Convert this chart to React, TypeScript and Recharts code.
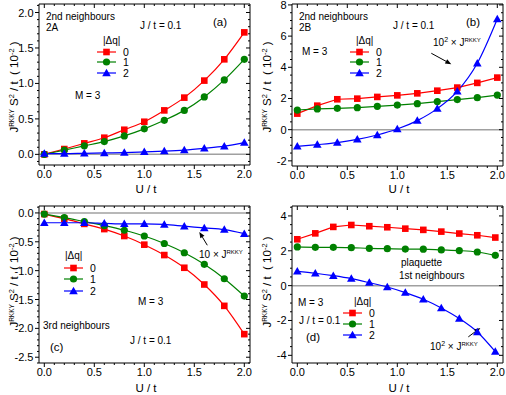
import React from 'react';
import { LineChart, Line, XAxis, YAxis, ReferenceLine } from 'recharts';

// U/t grid of panels (a)-(c) and of the plaquette panel (d)
const uSteps = [0, 0.2, 0.4, 0.6, 0.8, 1.0, 1.2, 1.4, 1.6, 1.8, 2.0];
const uPlaq = [0, 0.18, 0.36, 0.54, 0.72, 0.9, 1.08, 1.26, 1.44, 1.62, 1.8, 1.98];

// (a) 2nd neighbours 2A
const a0 = [0.0, 0.075, 0.155, 0.235, 0.347, 0.46, 0.62, 0.8, 1.04, 1.34, 1.72];
const a1 = [0.0, 0.06, 0.12, 0.18, 0.26, 0.36, 0.48, 0.62, 0.81, 1.05, 1.34];
const a2 = [0.01, 0.01, 0.015, 0.02, 0.025, 0.035, 0.045, 0.06, 0.085, 0.115, 0.165];

// (b) 2nd neighbours 2B
const b0 = [1.03, 1.54, 1.95, 1.99, 2.1, 2.2, 2.33, 2.5, 2.7, 3.0, 3.34];
const b1 = [1.26, 1.33, 1.37, 1.41, 1.5, 1.58, 1.67, 1.8, 1.93, 2.05, 2.22];
const b2 = [-1.07, -0.96, -0.83, -0.62, -0.34, 0.04, 0.58, 1.35, 2.46, 4.26, 7.1];

// (c) 3rd neighbours
const c0 = [-0.02, -0.1, -0.19, -0.28, -0.4, -0.55, -0.73, -0.95, -1.24, -1.61, -2.1];
const c1 = [-0.02, -0.08, -0.15, -0.22, -0.3, -0.4, -0.53, -0.69, -0.89, -1.14, -1.44];
const c2 = [-0.17, -0.17, -0.17, -0.18, -0.19, -0.19, -0.2, -0.23, -0.26, -0.29, -0.36];

// (d) plaquette 1st neighbours
const d0 = [2.66, 3.0, 3.37, 3.48, 3.41, 3.35, 3.27, 3.2, 3.1, 2.99, 2.89, 2.76];
const d1 = [2.22, 2.2, 2.2, 2.18, 2.14, 2.12, 2.1, 2.09, 2.05, 2.01, 1.93, 1.74];
const d2 = [0.82, 0.71, 0.57, 0.4, 0.17, -0.08, -0.4, -0.78, -1.28, -1.89, -2.66, -3.79];

// ticks (major + minor)
const xTicks = [0, 0.1, 0.2, 0.3, 0.4, 0.5, 0.6, 0.7, 0.8, 0.9, 1.0, 1.1, 1.2, 1.3, 1.4, 1.5, 1.6, 1.7, 1.8, 1.9, 2.0];
const aTicks = [-0.1, 0, 0.1, 0.2, 0.3, 0.4, 0.5, 0.6, 0.7, 0.8, 0.9, 1.0, 1.1, 1.2, 1.3, 1.4, 1.5, 1.6, 1.7, 1.8, 1.9, 2.0, 2.1];
const bTicks = [-2, -1.5, -1, -0.5, 0, 0.5, 1, 1.5, 2, 2.5, 3, 3.5, 4, 4.5, 5, 5.5, 6, 6.5, 7, 7.5, 8];
const cTicks = [0.1, 0, -0.1, -0.2, -0.3, -0.4, -0.5, -0.6, -0.7, -0.8, -0.9, -1.0, -1.1, -1.2, -1.3, -1.4, -1.5, -1.6, -1.7, -1.8, -1.9, -2.0, -2.1, -2.2, -2.3, -2.4, -2.5, -2.6];
const dTicks = [-4, -3.5, -3, -2.5, -2, -1.5, -1, -0.5, 0, 0.5, 1, 1.5, 2, 2.5, 3, 3.5, 4, 4.5];

const RED = '#ff0000';
const GREEN = '#008000';
const BLUE = '#0000ff';
const FONT = "'Liberation Sans', Arial, sans-serif";

const isMajor = (v: number, step: number) => Math.abs(v / step - Math.round(v / step)) < 1e-6;

const Marker = ({ shape, cx, cy, color }: any) => {
  if (cx == null || cy == null) return null;
  if (shape === 'square') return <rect x={cx - 3.3} y={cy - 3.3} width={6.6} height={6.6} fill={color} />;
  if (shape === 'circle') return <circle cx={cx} cy={cy} r={3.6} fill={color} />;
  return <polygon points={`${cx},${cy - 4.3} ${cx - 4.3},${cy + 3.2} ${cx + 4.3},${cy + 3.2}`} fill={color} />;
};

const series = [
  { key: 's0', color: RED, shape: 'square', label: '0' },
  { key: 's1', color: GREEN, shape: 'circle', label: '1' },
  { key: 's2', color: BLUE, shape: 'triangle', label: '2' },
];

const arrowShape = (p: any) => {
  const { x1, y1, x2, y2 } = p;
  const ang = Math.atan2(y2 - y1, x2 - x1);
  const L = 6, W = 2.4;
  const bx = x2 - L * Math.cos(ang), by = y2 - L * Math.sin(ang);
  const px = -Math.sin(ang) * W, py = Math.cos(ang) * W;
  return (
    <g>
      <line x1={x1} y1={y1} x2={bx} y2={by} stroke="#000" strokeWidth={1} />
      <polygon points={`${x2},${y2} ${bx + px},${by + py} ${bx - px},${by - py}`} fill="#000" />
    </g>
  );
};

// box = plot box edges inside the panel; axes take a few px of it
function Panel({ left, top, width, height, box, xs, ys, yDomain, yTicks, yStep, yFmt, curves, arrow }: any) {
  const data = xs.map((u: number, i: number) => ({ u, s0: ys[0][i], s1: ys[1][i], s2: ys[2][i] }));
  const xDomain = [-0.053, 2.057];
  const margin = { top: box.top - 1, left: box.left - 30, right: box.right - 1, bottom: box.bottom - 20 };
  const bottomTick = (p: any) => {
    const v = p.payload.value;
    const maj = isMajor(v, 0.5);
    return (
      <g key={`bx${v}`}>
        <line x1={p.x} x2={p.x} y1={p.y} y2={p.y + (maj ? 4 : 2)} stroke="#000" />
        {maj && <text x={p.x} y={p.y + 12.5} textAnchor="middle" fontSize={11} fontFamily={FONT} fill="#000">{v.toFixed(1)}</text>}
      </g>
    );
  };
  const topTick = (p: any) => {
    const v = p.payload.value;
    const maj = isMajor(v, 0.5);
    return <line key={`tx${v}`} x1={p.x} x2={p.x} y1={p.y} y2={p.y + (maj ? 4 : 2)} stroke="#000" />;
  };
  const leftTick = (p: any) => {
    const v = p.payload.value;
    const maj = isMajor(v, yStep);
    return (
      <g key={`ly${v}`}>
        <line x1={p.x} x2={p.x - (maj ? 4 : 2)} y1={p.y} y2={p.y} stroke="#000" />
        {maj && <text x={p.x - 5.5} y={p.y + 4} textAnchor="end" fontSize={11} fontFamily={FONT} fill="#000">{yFmt(v)}</text>}
      </g>
    );
  };
  const rightTick = (p: any) => {
    const v = p.payload.value;
    const maj = isMajor(v, yStep);
    return <line key={`ry${v}`} x1={p.x} x2={p.x - (maj ? 4 : 2)} y1={p.y} y2={p.y} stroke="#000" />;
  };
  const common = { type: 'number' as const, allowDataOverflow: true, interval: 0 as const, tickSize: 0, tickMargin: 0, tickLine: false, stroke: '#000' };
  return (
    <div style={{ position: 'absolute', left, top, width, height }}>
      <LineChart width={width} height={height} data={data} margin={margin}>
        <XAxis {...common} dataKey="u" domain={xDomain} ticks={xTicks} height={20} tick={bottomTick} />
        <XAxis {...common} xAxisId="top" orientation="top" dataKey="u" domain={xDomain} ticks={xTicks} height={1} tick={topTick} />
        <YAxis {...common} domain={yDomain} ticks={yTicks} width={30} tick={leftTick} />
        <YAxis {...common} yAxisId="right" orientation="right" domain={yDomain} ticks={yTicks} width={1} tick={rightTick} />
        <ReferenceLine y={0} stroke="#a0a0a0" strokeWidth={1.5} />
        {series.map((s, i) => (
          <Line
            key={s.key}
            dataKey={s.key}
            type={curves[i]}
            stroke={s.color}
            strokeWidth={1.2}
            isAnimationActive={false}
            dot={(p: any) => <Marker key={`${s.key}${p.index}`} shape={s.shape} cx={p.cx} cy={p.cy} color={s.color} />}
          />
        ))}
        {arrow && <ReferenceLine segment={arrow} shape={arrowShape} ifOverflow="visible" />}
      </LineChart>
    </div>
  );
}

const Txt = ({ x, y, size = 10, children }: any) => (
  <div style={{ position: 'absolute', left: x, top: y, transform: 'translateY(-50%)', fontSize: size, lineHeight: 1, whiteSpace: 'nowrap', fontFamily: FONT, color: '#000' }}>
    {children}
  </div>
);

const sup = (t: string, s = 6.5) => <sup style={{ fontSize: s, verticalAlign: 0, position: 'relative', top: -4 }}>{t}</sup>;

const YLabel = ({ x, y }: any) => (
  <div style={{ position: 'absolute', left: x, top: y, transform: 'translate(-50%,-50%) rotate(-90deg)', fontSize: 11.5, lineHeight: 1, whiteSpace: 'nowrap', fontFamily: FONT }}>
    J{sup('RKKY')} S{sup('2', 7.5)} / t&nbsp; ( 10{sup('-2', 7.5)} )
  </div>
);

const XLabel = ({ x, y }: any) => (
  <div style={{ position: 'absolute', left: x, top: y, transform: 'translate(-50%,-50%)', fontSize: 11.5, lineHeight: 1, whiteSpace: 'nowrap', fontFamily: FONT }}>
    U / t
  </div>
);

const Legend = ({ tx, y0, lx, gap }: any) => (
  <>
    <Txt x={tx} y={y0} size={10}>|Δq|</Txt>
    {series.map((s, i) => {
      const y = y0 + gap * (i + 1);
      return (
        <React.Fragment key={s.key}>
          <svg style={{ position: 'absolute', left: lx, top: y - 5, overflow: 'visible' }} width={19} height={10}>
            <line x1={0} x2={19} y1={5} y2={5} stroke={s.color} strokeWidth={1.2} />
            <Marker shape={s.shape} cx={9.5} cy={5} color={s.color} />
          </svg>
          <Txt x={lx + 26} y={y} size={10.5}>{s.label}</Txt>
        </React.Fragment>
      );
    })}
  </>
);

const Times = ({ x, y, factor }: any) => (
  <Txt x={x} y={y} size={10}>
    {factor} × J{sup('RKKY', 6)}
  </Txt>
);

export default function App() {
  const boxTop = { top: 4, left: 39, right: 3, bottom: 32 };
  const boxB = { top: 4, left: 39, right: 3, bottom: 31 };
  const boxLow = { top: 9, left: 39, right: 3, bottom: 32 };
  return (
    <div style={{ position: 'absolute', left: 0, top: 0, width: 506, height: 395, background: '#fff', fontFamily: FONT }}>
      <Panel left={0} top={0} width={253} height={197} box={boxTop} xs={uSteps} ys={[a0, a1, a2]}
        yDomain={[-0.15, 2.12]} yTicks={aTicks} yStep={0.5} yFmt={(v: number) => v.toFixed(1)}
        curves={['monotone', 'monotone', 'monotone']} />
      <Panel left={253} top={0} width={253} height={197} box={boxB} xs={uSteps} ys={[b0, b1, b2]}
        yDomain={[-2.33, 8.06]} yTicks={bTicks} yStep={2} yFmt={(v: number) => String(v)}
        curves={['linear', 'linear', 'monotone']}
        arrow={[{ x: 1.34, y: 4.9 }, { x: 1.54, y: 4.2 }]} />
      <Panel left={0} top={197} width={253} height={198} box={boxLow} xs={uSteps} ys={[c0, c1, c2]}
        yDomain={[-2.6, 0.12]} yTicks={cTicks} yStep={0.5} yFmt={(v: number) => v.toFixed(1)}
        curves={['monotone', 'monotone', 'monotone']}
        arrow={[{ x: 1.63, y: -0.56 }, { x: 1.55, y: -0.33 }]} />
      <Panel left={253} top={197} width={253} height={198} box={boxLow} xs={uPlaq} ys={[d0, d1, d2]}
        yDomain={[-4.44, 4.57]} yTicks={dTicks} yStep={2} yFmt={(v: number) => String(v)}
        curves={['linear', 'monotone', 'monotone']}
        arrow={[{ x: 1.71, y: -2.94 }, { x: 1.83, y: -2.43 }]} />

      {/* (a) */}
      <Txt x={46} y={17}>2nd neighbours</Txt>
      <Txt x={46} y={28}>2A</Txt>
      <Txt x={140} y={26}>J / t = 0.1</Txt>
      <Txt x={213} y={23} size={11.5}>(a)</Txt>
      <Txt x={75} y={96}>M = 3</Txt>
      <Legend tx={103} y0={41} lx={97} gap={10.7} />
      <YLabel x={15} y={87} />
      <XLabel x={146} y={190} />

      {/* (b) */}
      <Txt x={299} y={17}>2nd neighbours</Txt>
      <Txt x={299} y={28}>2B</Txt>
      <Txt x={393} y={26}>J / t = 0.1</Txt>
      <Txt x={466} y={23} size={11.5}>(b)</Txt>
      <Txt x={302} y={52}>M = 3</Txt>
      <Legend tx={356} y0={41} lx={350} gap={10.7} />
      <Times x={433} y={43} factor={<>10{sup('2', 7)}</>} />
      <YLabel x={268} y={87} />
      <XLabel x={399} y={190} />

      {/* (c) */}
      <Legend tx={65} y0={256} lx={64} gap={11.6} />
      <Times x={199} y={255} factor="10" />
      <Txt x={138} y={302}>M = 3</Txt>
      <Txt x={43} y={326}>3rd neighbours</Txt>
      <Txt x={130} y={341}>J / t = 0.1</Txt>
      <Txt x={50} y={348} size={11.5}>(c)</Txt>
      <YLabel x={15} y={282} />
      <XLabel x={146} y={389} />

      {/* (d) */}
      <Txt x={401} y={263}>plaquette</Txt>
      <Txt x={399} y={276}>1st neighbours</Txt>
      <Txt x={298} y={303}>M = 3</Txt>
      <Legend tx={354} y0={302} lx={343} gap={11} />
      <Txt x={299} y={321}>J / t = 0.1</Txt>
      <Txt x={306} y={338} size={11.5}>(d)</Txt>
      <Times x={430} y={347} factor={<>10{sup('2', 7)}</>} />
      <YLabel x={268} y={282} />
      <XLabel x={399} y={389} />
    </div>
  );
}
